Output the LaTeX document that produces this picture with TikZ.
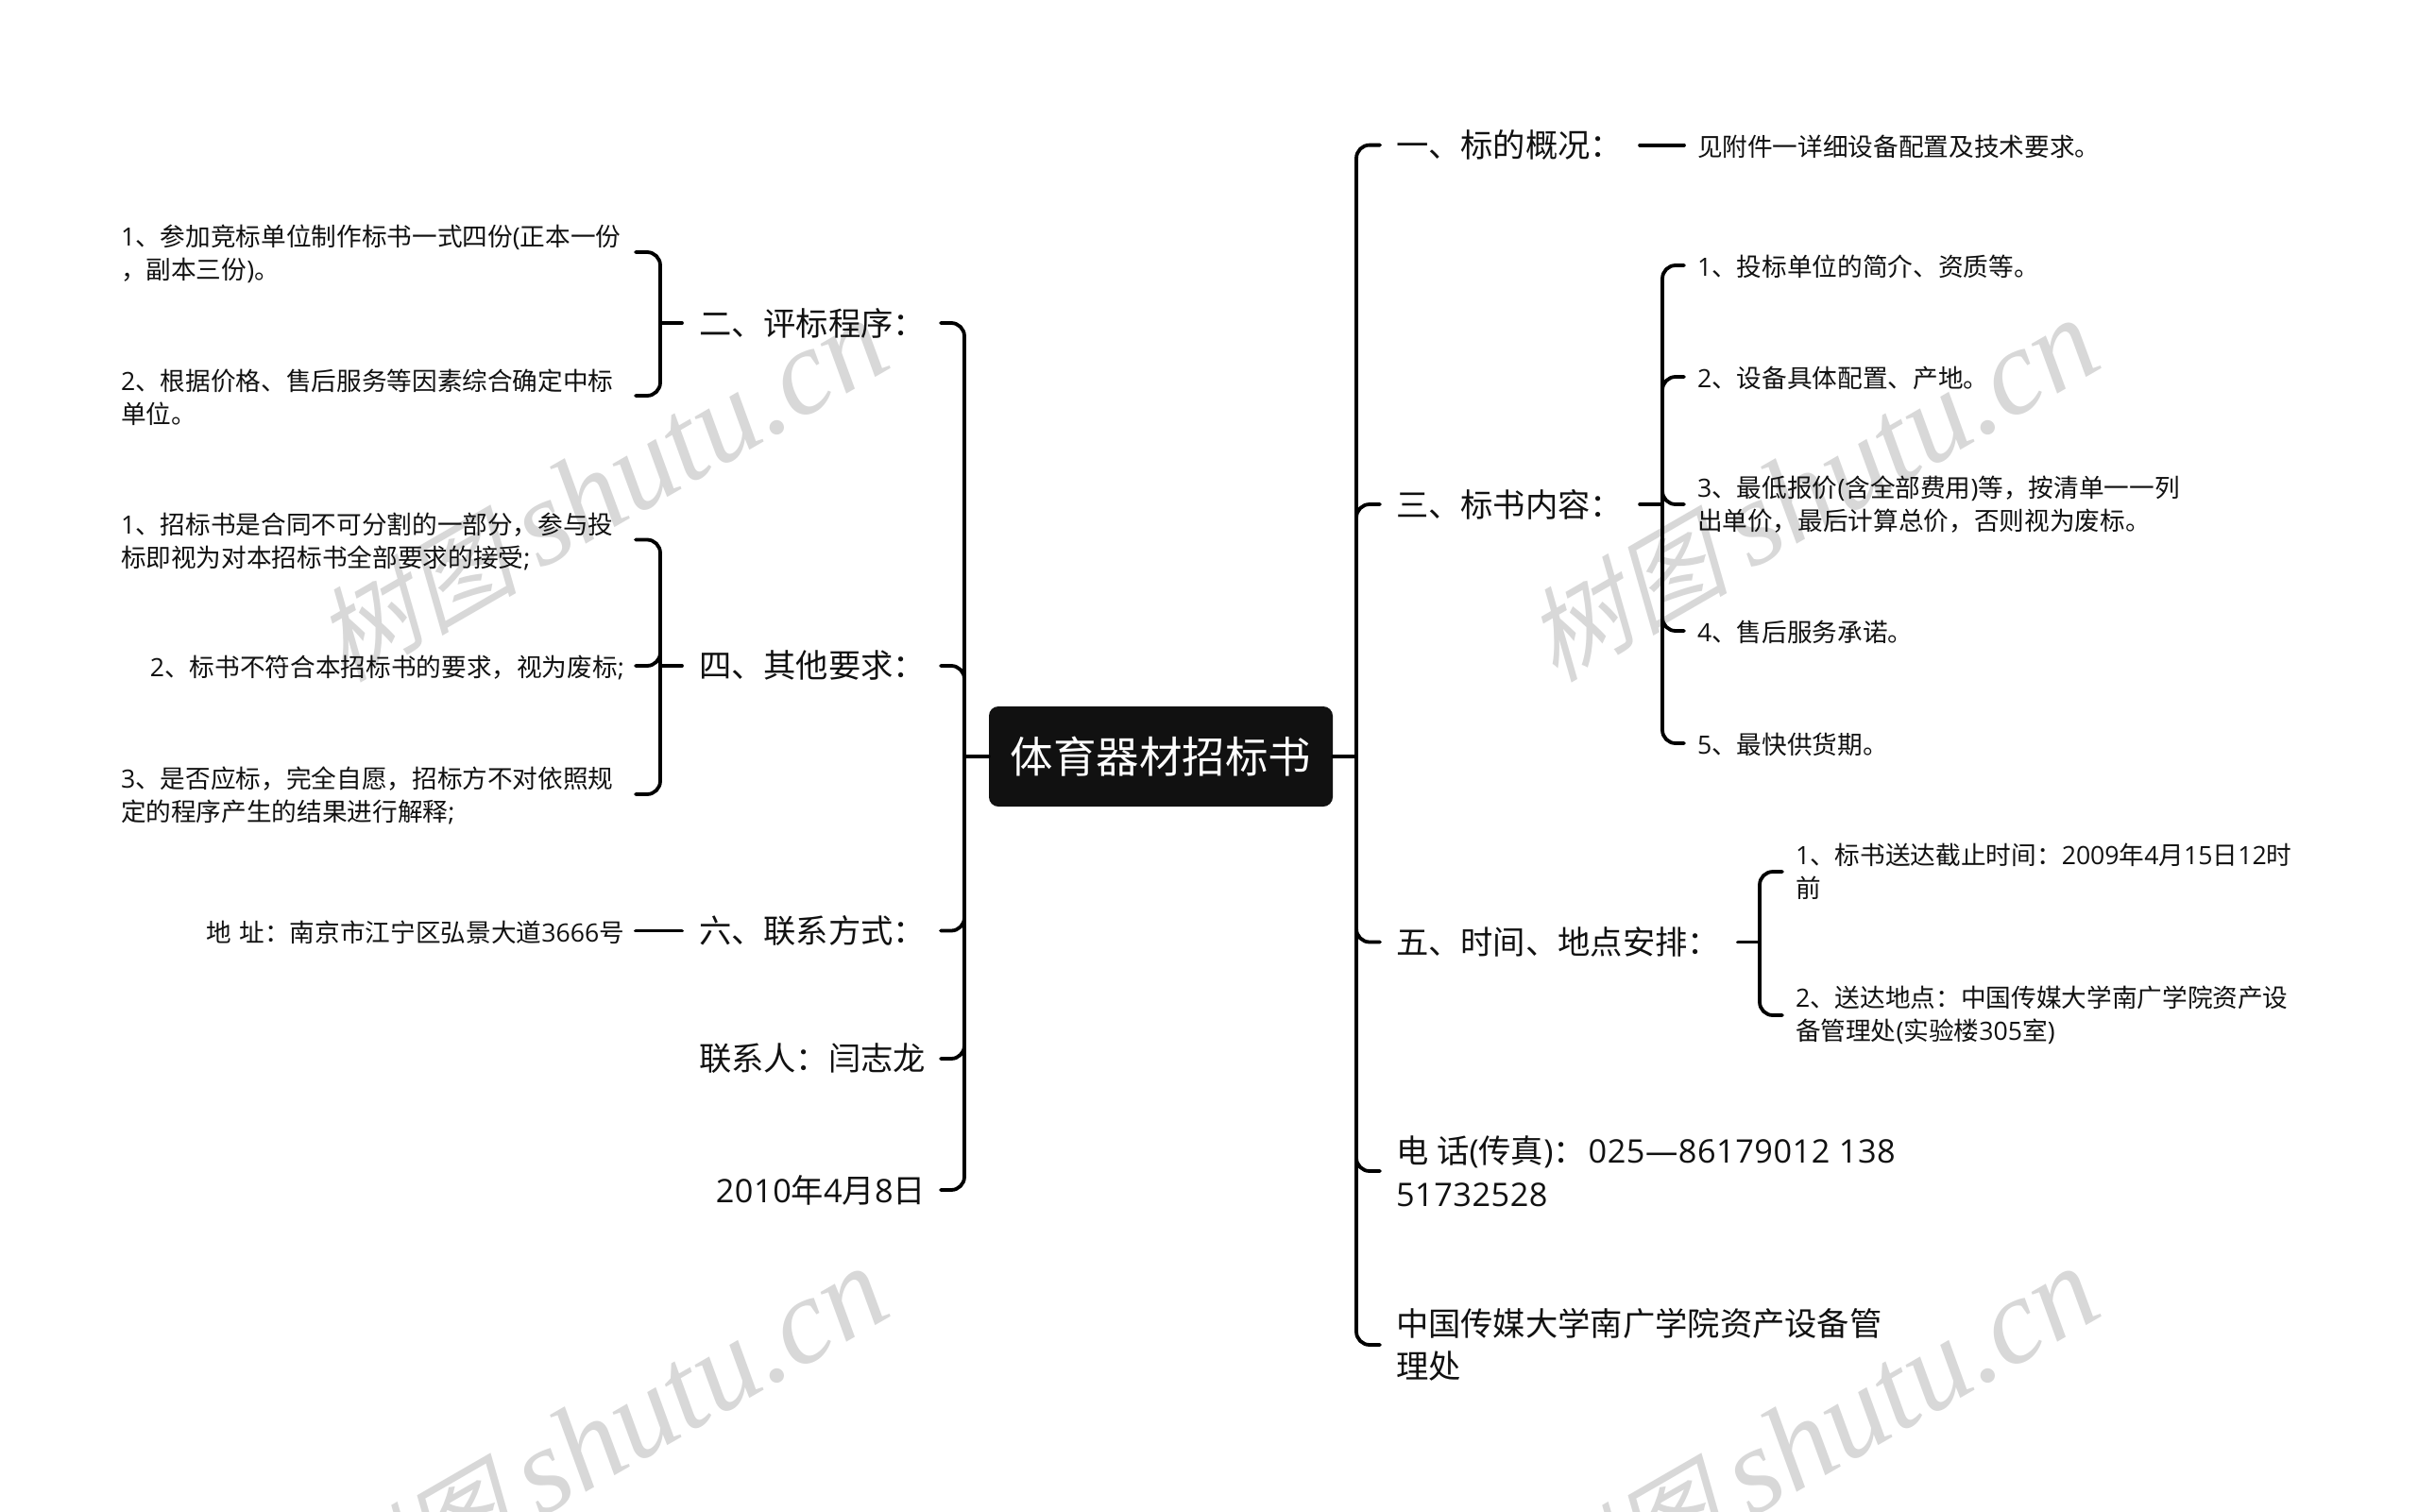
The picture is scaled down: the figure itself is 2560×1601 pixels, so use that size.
\documentclass[tikz,border=0pt]{standalone}
\usepackage{fontspec}
\setmainfont{Noto Sans CJK SC}
\newfontfamily\wmcjk[FakeSlant=0.25]{Noto Sans CJK SC}
\newfontfamily\wmlat{Liberation Serif Italic}
\newfontfamily\latfont{Open Sans}
\newcommand\latn[1]{{\latfont #1}}
\newcommand\latb[1]{{\latfont\addfontfeature{LetterSpace=1.5}#1}}
\definecolor{ink}{HTML}{111111}
\definecolor{mark}{HTML}{D8D8D8}
\tikzset{
  small/.style={font=\fontsize{26.65}{35}\selectfont,text=ink,inner sep=0pt,outer sep=0pt,execute at begin node={\rule{0pt}{0.96em}}},
  big/.style={font=\fontsize{34.3}{45.5}\selectfont,text=ink,inner sep=0pt,outer sep=0pt},
  leafleft/.style={small,anchor=east,text width=533pt,align=left},
  leafleftr/.style={small,anchor=east,text width=533pt,align=right},
  topleft/.style={big,anchor=east,text width=240pt,align=left},
  topleftr/.style={big,anchor=east,text width=240pt,align=right},
  leafright/.style={small,anchor=west,align=left},
  topright/.style={big,anchor=west,align=left},
  rootbox/.style={fill=ink,text=white,rounded corners=10pt,minimum width=364pt,minimum height=106pt,inner sep=0pt,font=\fontsize{45.5}{55}\selectfont},
  conn/.style={draw=black,line width=3.8pt,line cap=round,rounded corners=14pt},
  wm/.style={text=mark,rotate=30,inner sep=0pt}
}
\newcommand\wmtext{\fontsize{108}{130}\selectfont\wmcjk 树图 \fontsize{129}{130}\selectfont\wmlat shutu.cn}
\begin{document}
\begin{tikzpicture}[x=1pt,y=-1pt]
\useasboundingbox (0,0) rectangle (2560,1601);
\clip (0,0) rectangle (2560,1601);
\fill[white] (0,0) rectangle (2560,1601);
% watermarks
\node[wm] (w1) at (636,520) {\wmtext};
\node[wm] (w2) at (1918,520) {\wmtext};
\node[wm] (w3) at (636,1524) {\wmtext};
\node[wm] (w4) at (1918,1524) {\wmtext};
% root
\node[rootbox] (root) at (1229,801) {体育器材招标书};
% buses
\coordinate (busL) at (1021,800);
\coordinate (busR) at (1436,800);
\coordinate (busA) at (699,0);
\coordinate (busB) at (1760,0);
\coordinate (busC) at (1863,0);
% left level 1
\node[topleft] (l2) at (980,342) {二、评标程序：};
\node[topleft] (l4) at (980,705) {四、其他要求：};
\node[topleft] (l6) at (980,985.5) {六、联系方式：};
\node[topleftr] (l7) at (980,1121) {联系人：闫志龙};
\node[topleftr] (l8) at (980,1260) {\latb{2010}年\latn{4}月\latn{8}日};
% left leaves
\node[leafleft] (a1) at (661,267) {\latn{1}、参加竞标单位制作标书一式四份\latn{(}正本一份\\，副本三份\latn{)}。};
\node[leafleft] (a2) at (661,419) {\latn{2}、根据价格、售后服务等因素综合确定中标\\单位。};
\node[leafleft] (b1) at (661,571.5) {\latn{1}、招标书是合同不可分割的一部分，参与投\\标即视为对本招标书全部要求的接受\latn{;}};
\node[leafleftr] (b2) at (661,705) {\latn{2}、标书不符合本招标书的要求，视为废标\latn{;}};
\node[leafleft] (b3) at (661,841) {\latn{3}、是否应标，完全自愿，招标方不对依照规\\定的程序产生的结果进行解释\latn{;}};
\node[leafleftr] (c1) at (661,985.5) {地\latn{ }址：南京市江宁区弘景大道\latn{3666}号};
% right level 1
\node[topright] (r1) at (1478,153.6) {一、标的概况：};
\node[topright] (r3) at (1478,534) {三、标书内容：};
\node[topright] (r5) at (1478,997.5) {五、时间、地点安排：};
\node[topright] (r6) at (1478,1240) {电\latn{ }话\latn{(}传真\latn{)}：\kern3pt\latb{025—86179012 138}\\\latb{51732528}};
\node[topright] (r7) at (1478,1424) {中国传媒大学南广学院资产设备管\\理处};
% right leaves
\node[leafright] (d1) at (1797,153.6) {见附件一详细设备配置及技术要求。};
\node[leafright] (e1) at (1797,281) {\latn{1}、投标单位的简介、资质等。};
\node[leafright] (e2) at (1797,399) {\latn{2}、设备具体配置、产地。};
\node[leafright] (e3) at (1797,534) {\latn{3}、最低报价\latn{(}含全部费用\latn{)}等，按清单一一列\\出单价，最后计算总价，否则视为废标。};
\node[leafright] (e4) at (1797,668) {\latn{4}、售后服务承诺。};
\node[leafright] (e5) at (1797,787) {\latn{5}、最快供货期。};
\node[leafright] (f1) at (1901,923) {\latn{1}、标书送达截止时间：\latn{2009}年\latn{4}月\latn{15}日\latn{12}时\\前};
\node[leafright] (f2) at (1901,1075) {\latn{2}、送达地点：中国传媒大学南广学院资产设\\备管理处\latn{(}实验楼\latn{305}室\latn{)}};
% root stubs
\draw[conn] (root.east) -- (root.east -| busR);
\draw[conn] (root.west) -- (root.west -| busL);
% root to level 1
\foreach \n in {r1,r3,r5,r6,r7}
  \draw[conn] (root.east -| busR) -- (busR |- \n.west) -- ([xshift=-17pt]\n.west);
\foreach \n in {l2,l4,l6,l7,l8}
  \draw[conn] (root.west -| busL) -- (busL |- \n.east) -- ([xshift=16pt]\n.east);
% level 1 to leaves, right
\draw[conn] ([xshift=18pt]r1.east) -- ([xshift=-14pt]d1.west);
\draw[conn] ([xshift=18pt]r3.east) -- (r3.east -| busB);
\foreach \n in {e1,e2,e3,e4,e5}
  \draw[conn] (r3.east -| busB) -- (busB |- \n.west) -- ([xshift=-14pt]\n.west);
\draw[conn] ([xshift=19pt]r5.east) -- (r5.east -| busC);
\foreach \n in {f1,f2}
  \draw[conn] (r5.east -| busC) -- (busC |- \n.west) -- ([xshift=-14pt]\n.west);
% level 1 to leaves, left
\draw[conn] ([xshift=-18pt]l2.west) -- (l2.west -| busA);
\foreach \n in {a1,a2}
  \draw[conn] (l2.west -| busA) -- (busA |- \n.east) -- ([xshift=12pt]\n.east);
\draw[conn] ([xshift=-18pt]l4.west) -- (l4.west -| busA);
\foreach \n in {b1,b2,b3}
  \draw[conn] (l4.west -| busA) -- (busA |- \n.east) -- ([xshift=12pt]\n.east);
\draw[conn] ([xshift=-18pt]l6.west) -- ([xshift=12pt]c1.east);
\end{tikzpicture}
\end{document}
